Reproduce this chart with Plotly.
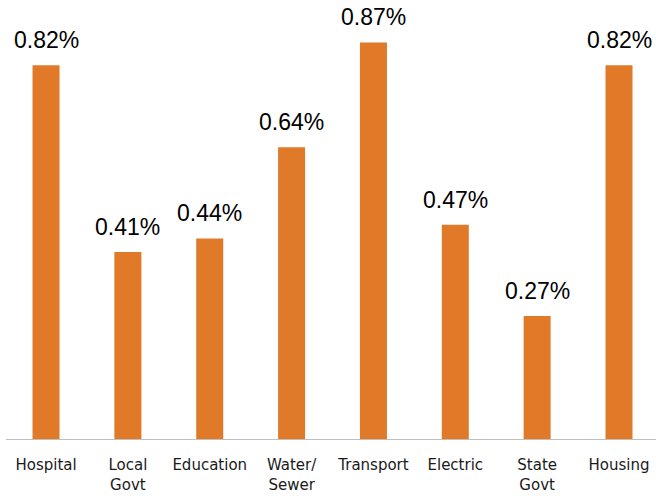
import plotly.graph_objects as go

categories = ["Hospital", "Local<br>Govt", "Education", "Water/<br>Sewer", "Transport", "Electric", "State<br>Govt", "Housing"]
values = [0.82, 0.41, 0.44, 0.64, 0.87, 0.47, 0.27, 0.82]
labels = ["0.82%", "0.41%", "0.44%", "0.64%", "0.87%", "0.47%", "0.27%", "0.82%"]

bar_color = "#E07A29"

fig = go.Figure(go.Bar(
    x=list(range(len(categories))), y=values,
    marker=dict(color=bar_color, line=dict(width=0)),
    width=0.33,
    hoverinfo="skip",
))

for i, (v, t) in enumerate(zip(values, labels)):
    fig.add_annotation(x=i, y=v, text=t, showarrow=False, yanchor="bottom",
                       yshift=10, font=dict(family="Liberation Sans, Arial", size=23, color="#000000"))

fig.update_layout(
    width=656, height=496,
    margin=dict(l=6, r=0, t=0, b=57),
    paper_bgcolor="white", plot_bgcolor="white",
    showlegend=False,
    xaxis=dict(
        range=[-0.489, 7.452],
        tickmode="array", tickvals=list(range(len(categories))), ticktext=categories,
        showline=True, linecolor="#BFBFBF", linewidth=1,
        ticks="outside", ticklen=12, tickcolor="rgba(0,0,0,0)",
        showgrid=False, zeroline=False,
        tickfont=dict(family="DejaVu Sans", size=15, color="#1a1a1a"),
    ),
    yaxis=dict(range=[0, 0.963], visible=False, showgrid=False, zeroline=False),
)

fig.write_html("out.html", config={"displayModeBar": False},
               post_script="document.body.style.margin='0';document.body.style.overflow='hidden';")
